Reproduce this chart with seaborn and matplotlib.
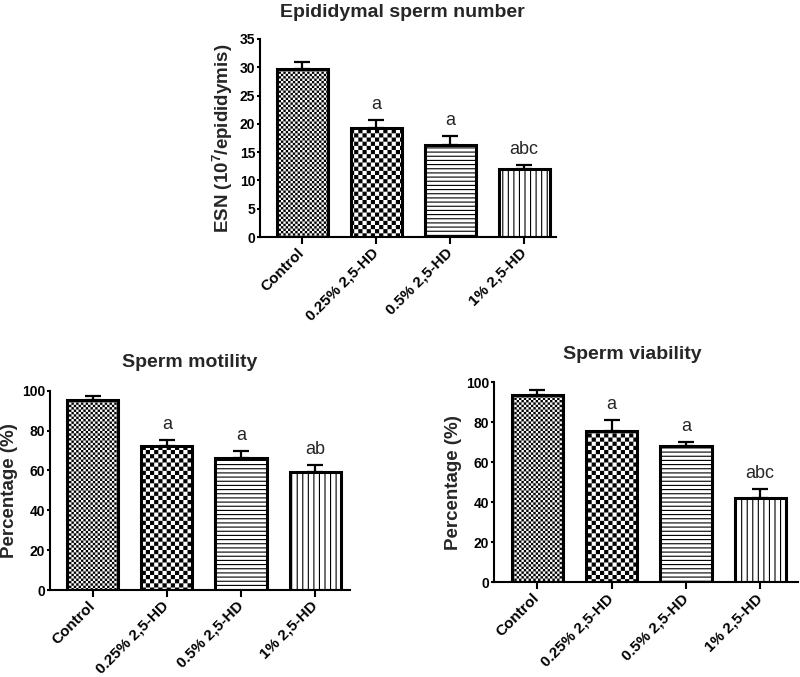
import numpy as np
import pandas as pd
import matplotlib
matplotlib.use("Agg")
import matplotlib.pyplot as plt
import matplotlib.hatch as mhatch
from matplotlib.path import Path
import seaborn as sns

# ---------------- data ----------------
groups = ["Control", "0.25% 2,5-HD", "0.5% 2,5-HD", "1% 2,5-HD"]

esn_mean = [29.7, 19.3, 16.3, 12.0]
esn_err = [1.3, 1.3, 1.5, 0.7]
esn_letters = ["", "a", "a", "abc"]

mot_mean = [95.2, 72.4, 66.4, 59.2]
mot_err = [2.0, 3.0, 3.5, 3.6]
mot_letters = ["", "a", "a", "ab"]

via_mean = [93.5, 75.6, 68.0, 42.0]
via_err = [2.5, 5.6, 2.0, 4.5]
via_letters = ["", "a", "a", "abc"]

# ---------------- custom checkerboard hatch (replaces '*') ----------------
HATCH_LW_PT = 0.8


class Checker(mhatch.HatchPatternBase):
    def __init__(self, hatch, density):
        n = int(hatch.count('*') * density)
        n -= n % 2
        self.n = n
        self.num_vertices = (n * n // 2) * 5 if n else 0

    def set_vertices_and_codes(self, vertices, codes):
        n = self.n
        s = 1.0 / n
        inset = (HATCH_LW_PT / 72.0) * 0.5  # compensate for stroke
        inset = min(inset, s * 0.3)
        idx = 0
        for i in range(n):
            for j in range(n):
                if (i + j) % 2 == 0:
                    x0, y0 = i * s + inset, j * s + inset
                    x1, y1 = (i + 1) * s - inset, (j + 1) * s - inset
                    vertices[idx:idx + 5] = [(x0, y0), (x1, y0), (x1, y1), (x0, y1), (x0, y0)]
                    codes[idx:idx + 5] = [Path.MOVETO, Path.LINETO, Path.LINETO,
                                          Path.LINETO, Path.CLOSEPOLY]
                    idx += 5


mhatch._hatch_types = [t for t in mhatch._hatch_types if t is not mhatch.Stars] + [Checker]

# ---------------- style ----------------
sns.set_theme(style="ticks")
plt.rcParams["font.family"] = ["Liberation Sans", "DejaVu Sans"]
plt.rcParams["font.weight"] = "bold"
plt.rcParams["mathtext.fontset"] = "custom"
plt.rcParams["mathtext.rm"] = "Liberation Sans:bold"
plt.rcParams["mathtext.bf"] = "Liberation Sans:bold"
plt.rcParams["hatch.linewidth"] = HATCH_LW_PT
plt.rcParams["hatch.color"] = "black"

hatches = ["*******", "****", "----", "|||"]

fig = plt.figure(figsize=(8, 6.77), dpi=100)
fig.patch.set_facecolor("white")


def panel(rect, means, errs, letters, title, ylabel, ylim, yticks, xlim, title_x, title_pad, labelpad):
    ax = fig.add_axes(rect)
    df = pd.DataFrame({"group": groups, "value": means})
    sns.barplot(data=df, x="group", y="value", ax=ax, color="white",
                edgecolor="black", linewidth=2.2, width=0.69, saturation=1,
                errorbar=None)
    for p, h in zip(ax.patches, hatches):
        p.set_hatch(h)
        p.set_facecolor("white")
        p.set_edgecolor("black")
        p.set_zorder(2)
    pos = np.arange(len(groups))
    ax.errorbar(pos, means, yerr=[np.zeros(len(errs)), errs], fmt="none",
                ecolor="black", elinewidth=1.6, capsize=6, capthick=1.6, zorder=3)
    for x, m, e, lab in zip(pos, means, errs, letters):
        if lab:
            ax.annotate(lab, (x, m + e), xytext=(0, 8), textcoords="offset points",
                        ha="center", va="baseline", fontsize=13, fontweight="normal")
    ax.set_ylim(*ylim)
    ax.set_yticks(yticks)
    ax.set_xlim(*xlim)
    ax.set_xlabel("")
    ax.set_ylabel(ylabel, fontsize=13.5, fontweight="bold", labelpad=labelpad)
    ax.set_title(title, fontsize=14, fontweight="bold", x=title_x, pad=title_pad)
    for s in ["top", "right"]:
        ax.spines[s].set_visible(False)
    for s in ["left", "bottom"]:
        ax.spines[s].set_linewidth(1.5)
        ax.spines[s].set_color("black")
    ax.tick_params(axis="y", direction="out", length=2.5, width=1.5, labelsize=10, pad=1, colors="black")
    ax.tick_params(axis="x", direction="out", length=5, width=1.5, labelsize=11, pad=5, colors="black")
    ax.set_xticks(pos)
    ax.set_xticklabels(groups, rotation=45, ha="right", va="center",
                       rotation_mode="anchor", fontweight="bold")
    for t in ax.get_yticklabels():
        t.set_fontweight("bold")
    ax.set_facecolor("white")
    return ax


panel([0.325, 0.6499, 0.37, 0.2925], esn_mean, esn_err, esn_letters,
      "Epididymal sperm number", r"ESN (10$^{\mathbf{7}}$/epididymis)",
      (0, 35), np.arange(0, 36, 5), (-0.568, 3.43), 0.48, 16, 3)

panel([0.0625, 0.1285, 0.375, 0.2944], mot_mean, mot_err, mot_letters,
      "Sperm motility", "Percentage (%)",
      (0, 100), np.arange(0, 101, 20), (-0.574, 3.47), 0.464, 17, 3)

panel([0.6175, 0.1399, 0.38, 0.2954], via_mean, via_err, via_letters,
      "Sperm viability", "Percentage (%)",
      (0, 100), np.arange(0, 101, 20), (-0.586, 3.51), 0.454, 17, 3)

fig.savefig("out.png", dpi=100, facecolor="white")
